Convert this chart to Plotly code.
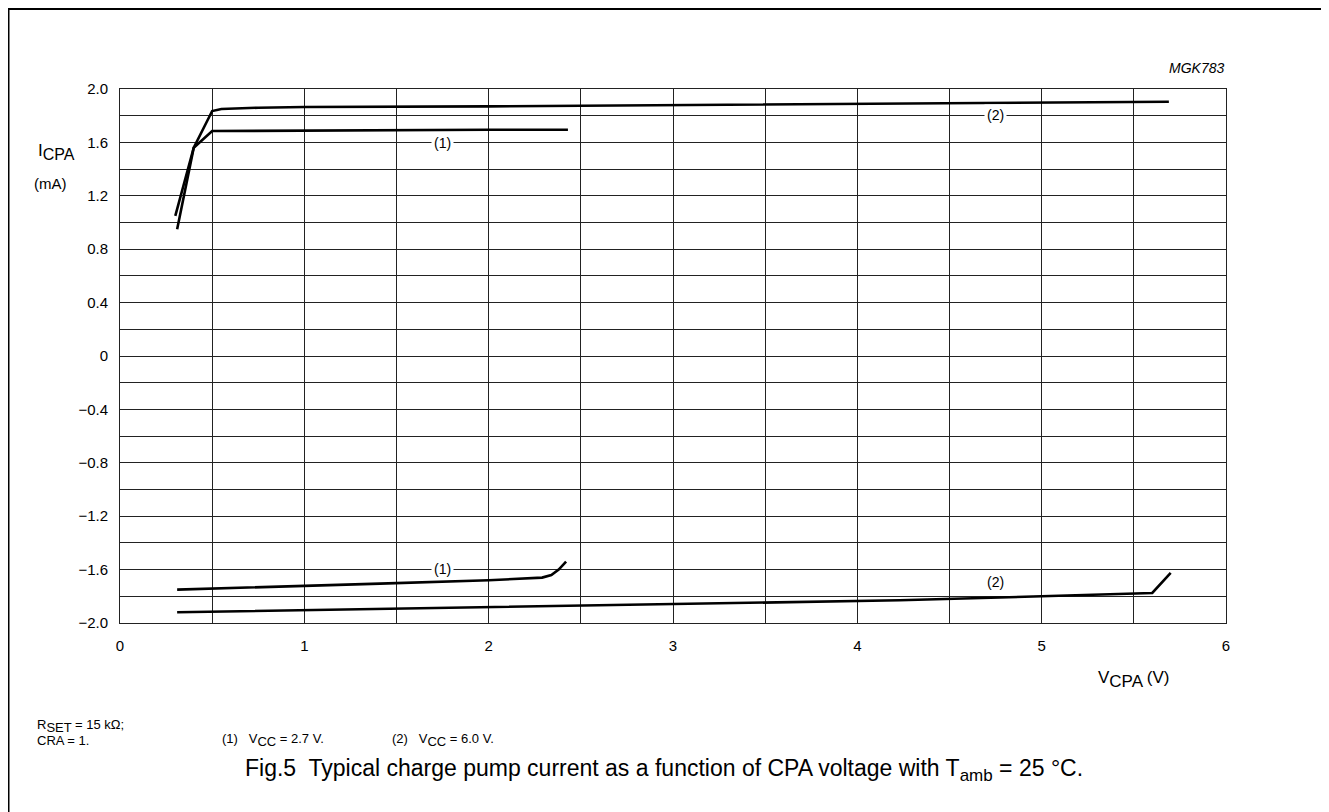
import plotly.graph_objects as go

# ---- data ----
v1_pos = [0.30, 0.40, 0.50, 1.00, 1.50, 2.00, 2.43]
i1_pos = [1.05, 1.56, 1.685, 1.69, 1.69, 1.695, 1.695]
v2_pos = [0.31, 0.40, 0.50, 0.55, 0.75, 1.00, 2.00, 3.00, 4.00, 5.00, 5.69]
i2_pos = [0.95, 1.56, 1.835, 1.85, 1.86, 1.865, 1.87, 1.88, 1.885, 1.895, 1.905]
v1_neg = [0.31, 1.00, 1.41, 2.00, 2.29, 2.34, 2.38, 2.42]
i1_neg = [-1.75, -1.725, -1.705, -1.68, -1.66, -1.64, -1.60, -1.54]
v2_neg = [0.31, 1.00, 2.00, 2.60, 3.00, 4.00, 4.23, 5.00, 5.60, 5.70]
i2_neg = [-1.92, -1.905, -1.88, -1.87, -1.86, -1.835, -1.83, -1.80, -1.775, -1.625]

x_ticks = [0, 1, 2, 3, 4, 5, 6]
x_labels = ["0", "1", "2", "3", "4", "5", "6"]
y_ticks = [-2.0, -1.6, -1.2, -0.8, -0.4, 0, 0.4, 0.8, 1.2, 1.6, 2.0]
y_labels = ["\u22122.0", "\u22121.6", "\u22121.2", "\u22120.8", "\u22120.4", "0",
            "0.4", "0.8", "1.2", "1.6", "2.0"]

# page body has an 8px offset; positions below are given in reference page pixels
OFF = 8
W, H = 1329, 812
L, T = 120 - OFF, 89 - OFF
PW, PH = 1106, 534
R, B = W - L - PW, H - T - PH


def px(x):
    return (x - OFF - L) / PW


def py(y):
    return (H - B - (y - OFF)) / PH


FONT = "Liberation Sans, Arial, sans-serif"
line = dict(color="black", width=2.6)


def sub(s, size):
    return f'<sub><span style="font-size:{size}px">{s}</span></sub>'


fig = go.Figure()
for xs, ys in [(v1_pos, i1_pos), (v2_pos, i2_pos), (v1_neg, i1_neg), (v2_neg, i2_neg)]:
    fig.add_trace(go.Scatter(x=xs, y=ys, mode="lines", line=line, showlegend=False, hoverinfo="skip"))

fig.update_xaxes(range=[0, 6], tickvals=x_ticks, ticktext=x_labels, showgrid=True, gridcolor="#222",
                 gridwidth=1, zeroline=False, showline=True, linecolor="#222", mirror=True,
                 minor=dict(tick0=0, dtick=0.5, showgrid=True, gridcolor="#222", gridwidth=1, ticks=""),
                 ticks="", ticklabelstandoff=9, tickfont=dict(family=FONT, size=15, color="black"))
fig.update_yaxes(range=[-2.0, 2.0], tickvals=y_ticks, ticktext=y_labels, showgrid=True, gridcolor="#222",
                 gridwidth=1, zeroline=False, showline=True, linecolor="#222", mirror=True,
                 minor=dict(tick0=0, dtick=0.2, showgrid=True, gridcolor="#222", gridwidth=1, ticks=""),
                 ticks="", ticklabelstandoff=8, tickfont=dict(family=FONT, size=15, color="black"))

ann = []


def txt(x, y, s, size=13, xanchor="center", bg=None, italic=False):
    d = dict(x=px(x), y=py(y), xref="paper", yref="paper", text=s, showarrow=False,
             xanchor=xanchor, yanchor="middle",
             font=dict(family=FONT, size=size, color="black", style="italic" if italic else "normal"))
    if bg:
        d.update(bgcolor=bg, borderpad=2)
    ann.append(d)


# curve labels
txt(442, 143, "(1)", size=14, bg="white")
txt(995, 115, "(2)", size=14, bg="white")
txt(442, 569, "(1)", size=14, bg="white")
txt(995, 582, "(2)", size=14)
# axis titles
txt(56, 152, "I" + sub("CPA", 16), size=17)
txt(50, 183, "(mA)", size=15)
txt(1134, 679, "V" + sub("CPA", 17) + " (V)", size=17)
txt(1226, 68, "MGK783", size=14, xanchor="right", italic=True)
# notes
txt(35, 726, "R" + sub("SET", 13) + " = 15 k\u03a9;", size=13, xanchor="left")
txt(35, 740, "CRA = 1.", size=13, xanchor="left")
txt(220, 740, "(1)   V" + sub("CC", 13) + " = 2.7 V.", size=13, xanchor="left")
txt(390, 740, "(2)   V" + sub("CC", 13) + " = 6.0 V.", size=13, xanchor="left")
txt(664, 770, "Fig.5  Typical charge pump current as a function of CPA voltage with T" + sub("amb", 17)
    + " = 25 \u00b0C.", size=23)
fig.update_layout(annotations=ann)

# outer frame (left, top, right)
for x0, y0, x1, y1 in [(8.5, 8, 8.5, 830), (7, 9, 1328, 9), (1327, 8, 1327, 830)]:
    fig.add_shape(type="line", xref="paper", yref="paper", x0=px(x0), y0=py(y0), x1=px(x1), y1=py(y1),
                  line=dict(color="black", width=2))

fig.update_layout(width=W, height=H, margin=dict(l=L, r=R, t=T, b=B, autoexpand=False),
                  paper_bgcolor="white", plot_bgcolor="white", font=dict(family=FONT))
fig.write_html("out.html")
